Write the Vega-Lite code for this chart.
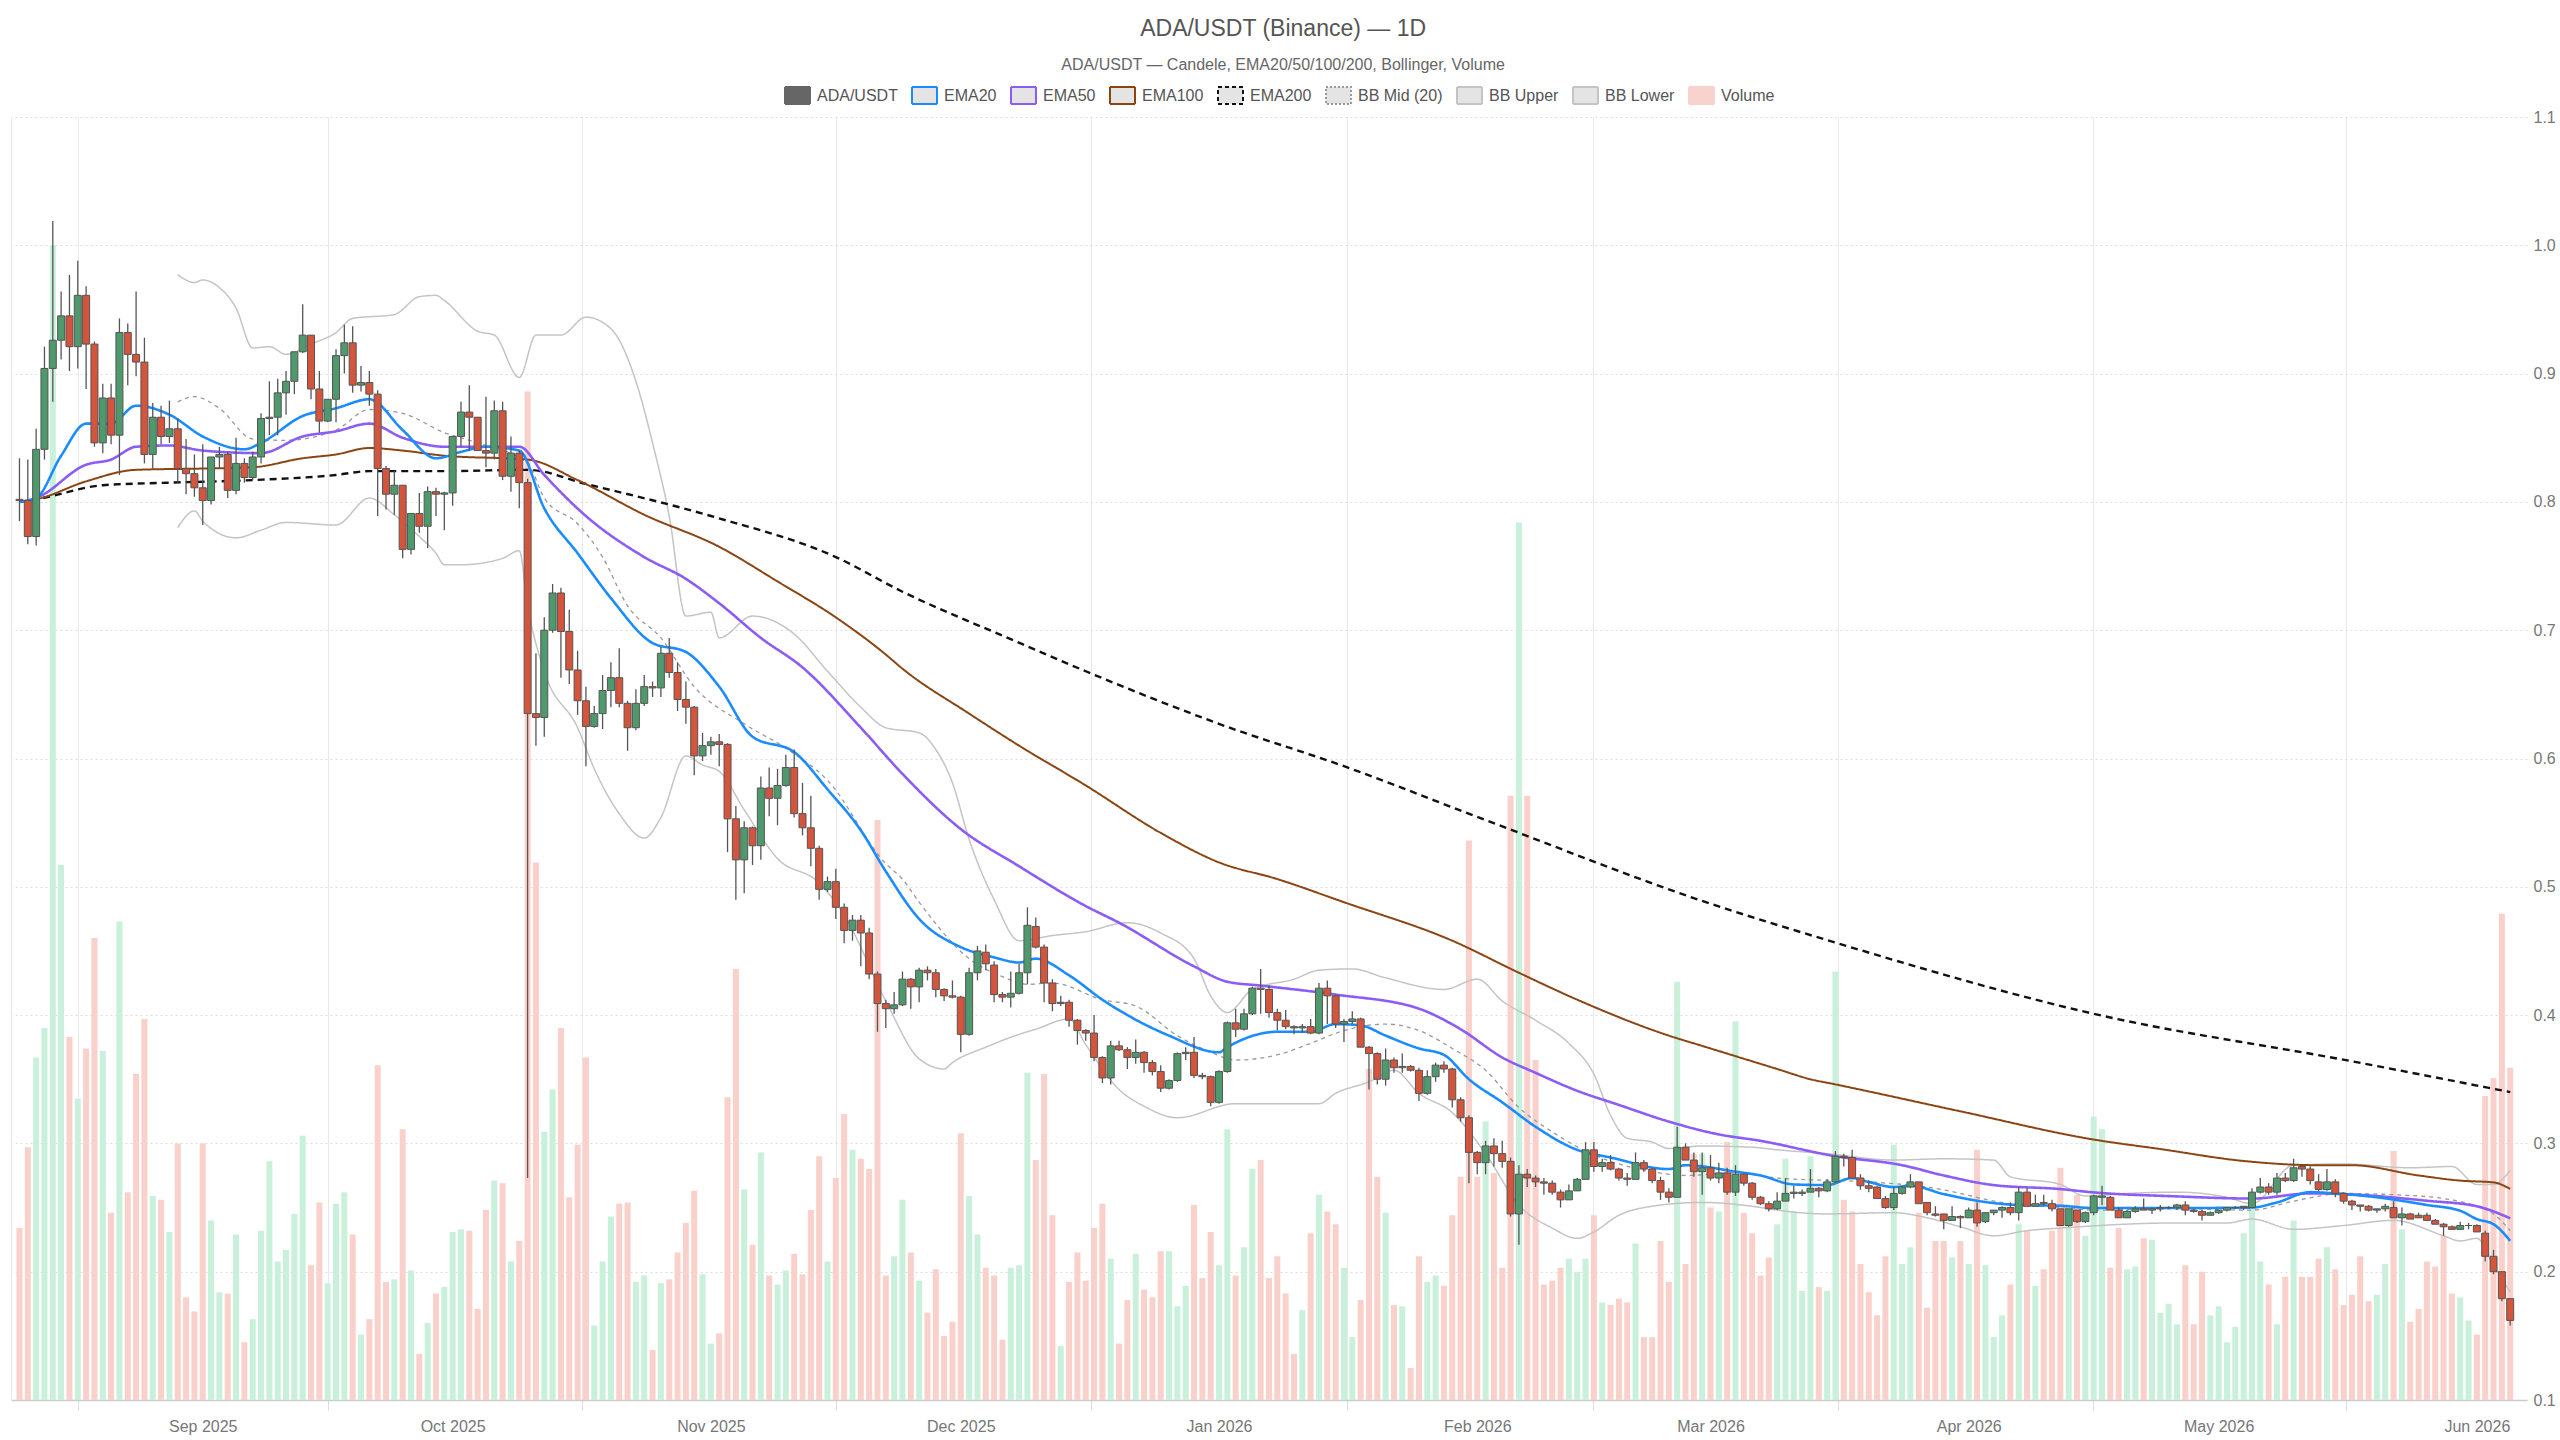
{
  "$schema": "https://vega.github.io/schema/vega-lite/v6.json",
  "autosize": {"type": "none"},
  "width": 2516,
  "height": 1283,
  "padding": {"left": 11, "top": 117, "right": 33, "bottom": 40},
  "background": "#ffffff",
  "config": {"font": "Liberation Sans", "view": {"stroke": null}},
  "title": {
    "text": "ADA/USDT (Binance) — 1D",
    "subtitle": "ADA/USDT — Candele, EMA20/50/100/200, Bollinger, Volume",
    "anchor": "middle",
    "frame": "bounds",
    "fontSize": 23,
    "fontWeight": "normal",
    "color": "#555555",
    "subtitleFontSize": 16,
    "subtitleColor": "#666666",
    "subtitlePadding": 16,
    "offset": 9
  },
  "datasets": {
    "ohlc": [
      {"d":"2025-08-10","o":0.802,"h":0.834,"l":0.785,"c":0.801,"v":134},
      {"d":"2025-08-11","o":0.801,"h":0.833,"l":0.767,"c":0.773,"v":197},
      {"d":"2025-08-12","o":0.773,"h":0.857,"l":0.766,"c":0.841,"v":267},
      {"d":"2025-08-13","o":0.841,"h":0.921,"l":0.833,"c":0.904,"v":290},
      {"d":"2025-08-14","o":0.904,"h":1.019,"l":0.878,"c":0.926,"v":900},
      {"d":"2025-08-15","o":0.926,"h":0.964,"l":0.911,"c":0.945,"v":417},
      {"d":"2025-08-16","o":0.945,"h":0.977,"l":0.902,"c":0.921,"v":283},
      {"d":"2025-08-17","o":0.921,"h":0.988,"l":0.904,"c":0.961,"v":235},
      {"d":"2025-08-18","o":0.961,"h":0.968,"l":0.888,"c":0.923,"v":274},
      {"d":"2025-08-19","o":0.923,"h":0.925,"l":0.843,"c":0.846,"v":360},
      {"d":"2025-08-20","o":0.846,"h":0.892,"l":0.838,"c":0.881,"v":272},
      {"d":"2025-08-21","o":0.881,"h":0.892,"l":0.845,"c":0.852,"v":146},
      {"d":"2025-08-22","o":0.852,"h":0.943,"l":0.821,"c":0.932,"v":373},
      {"d":"2025-08-23","o":0.932,"h":0.939,"l":0.891,"c":0.915,"v":162},
      {"d":"2025-08-24","o":0.915,"h":0.964,"l":0.898,"c":0.909,"v":254},
      {"d":"2025-08-25","o":0.909,"h":0.928,"l":0.830,"c":0.837,"v":297},
      {"d":"2025-08-26","o":0.837,"h":0.877,"l":0.826,"c":0.866,"v":159},
      {"d":"2025-08-27","o":0.866,"h":0.875,"l":0.845,"c":0.851,"v":156},
      {"d":"2025-08-28","o":0.851,"h":0.879,"l":0.846,"c":0.857,"v":131},
      {"d":"2025-08-29","o":0.857,"h":0.865,"l":0.815,"c":0.826,"v":200},
      {"d":"2025-08-30","o":0.826,"h":0.849,"l":0.806,"c":0.822,"v":80},
      {"d":"2025-08-31","o":0.822,"h":0.837,"l":0.804,"c":0.811,"v":69},
      {"d":"2025-09-01","o":0.811,"h":0.845,"l":0.782,"c":0.801,"v":200},
      {"d":"2025-09-02","o":0.801,"h":0.835,"l":0.798,"c":0.835,"v":140},
      {"d":"2025-09-03","o":0.835,"h":0.843,"l":0.826,"c":0.837,"v":84},
      {"d":"2025-09-04","o":0.837,"h":0.839,"l":0.803,"c":0.809,"v":83},
      {"d":"2025-09-05","o":0.809,"h":0.850,"l":0.806,"c":0.830,"v":129},
      {"d":"2025-09-06","o":0.830,"h":0.834,"l":0.815,"c":0.819,"v":45},
      {"d":"2025-09-07","o":0.819,"h":0.839,"l":0.817,"c":0.835,"v":63},
      {"d":"2025-09-08","o":0.835,"h":0.869,"l":0.830,"c":0.865,"v":132},
      {"d":"2025-09-09","o":0.865,"h":0.894,"l":0.852,"c":0.866,"v":186},
      {"d":"2025-09-10","o":0.866,"h":0.896,"l":0.852,"c":0.885,"v":108},
      {"d":"2025-09-11","o":0.885,"h":0.902,"l":0.868,"c":0.894,"v":117},
      {"d":"2025-09-12","o":0.894,"h":0.917,"l":0.884,"c":0.917,"v":145},
      {"d":"2025-09-13","o":0.917,"h":0.954,"l":0.916,"c":0.930,"v":206},
      {"d":"2025-09-14","o":0.930,"h":0.930,"l":0.880,"c":0.888,"v":105},
      {"d":"2025-09-15","o":0.888,"h":0.902,"l":0.854,"c":0.863,"v":154},
      {"d":"2025-09-16","o":0.863,"h":0.880,"l":0.862,"c":0.880,"v":91},
      {"d":"2025-09-17","o":0.880,"h":0.919,"l":0.862,"c":0.914,"v":153},
      {"d":"2025-09-18","o":0.914,"h":0.938,"l":0.900,"c":0.924,"v":162},
      {"d":"2025-09-19","o":0.924,"h":0.937,"l":0.885,"c":0.891,"v":129},
      {"d":"2025-09-20","o":0.891,"h":0.906,"l":0.886,"c":0.893,"v":51},
      {"d":"2025-09-21","o":0.893,"h":0.902,"l":0.875,"c":0.884,"v":63},
      {"d":"2025-09-22","o":0.884,"h":0.887,"l":0.789,"c":0.826,"v":261},
      {"d":"2025-09-23","o":0.826,"h":0.828,"l":0.794,"c":0.806,"v":92},
      {"d":"2025-09-24","o":0.806,"h":0.824,"l":0.790,"c":0.813,"v":94},
      {"d":"2025-09-25","o":0.813,"h":0.813,"l":0.756,"c":0.763,"v":211},
      {"d":"2025-09-26","o":0.763,"h":0.791,"l":0.759,"c":0.791,"v":101},
      {"d":"2025-09-27","o":0.791,"h":0.807,"l":0.776,"c":0.781,"v":36},
      {"d":"2025-09-28","o":0.781,"h":0.812,"l":0.764,"c":0.808,"v":60},
      {"d":"2025-09-29","o":0.808,"h":0.811,"l":0.789,"c":0.806,"v":83},
      {"d":"2025-09-30","o":0.806,"h":0.808,"l":0.778,"c":0.807,"v":88},
      {"d":"2025-10-01","o":0.807,"h":0.851,"l":0.797,"c":0.851,"v":131},
      {"d":"2025-10-02","o":0.851,"h":0.878,"l":0.843,"c":0.870,"v":133},
      {"d":"2025-10-03","o":0.870,"h":0.891,"l":0.840,"c":0.866,"v":132},
      {"d":"2025-10-04","o":0.866,"h":0.866,"l":0.840,"c":0.840,"v":71},
      {"d":"2025-10-05","o":0.840,"h":0.882,"l":0.827,"c":0.838,"v":148},
      {"d":"2025-10-06","o":0.838,"h":0.879,"l":0.833,"c":0.871,"v":171},
      {"d":"2025-10-07","o":0.871,"h":0.878,"l":0.817,"c":0.820,"v":169},
      {"d":"2025-10-08","o":0.820,"h":0.851,"l":0.808,"c":0.838,"v":108},
      {"d":"2025-10-09","o":0.838,"h":0.840,"l":0.795,"c":0.815,"v":124},
      {"d":"2025-10-10","o":0.815,"h":0.818,"l":0.273,"c":0.635,"v":786},
      {"d":"2025-10-11","o":0.635,"h":0.682,"l":0.610,"c":0.632,"v":419},
      {"d":"2025-10-12","o":0.632,"h":0.710,"l":0.617,"c":0.700,"v":209},
      {"d":"2025-10-13","o":0.700,"h":0.736,"l":0.698,"c":0.729,"v":242},
      {"d":"2025-10-14","o":0.729,"h":0.733,"l":0.663,"c":0.699,"v":290},
      {"d":"2025-10-15","o":0.699,"h":0.716,"l":0.658,"c":0.669,"v":158},
      {"d":"2025-10-16","o":0.669,"h":0.684,"l":0.634,"c":0.645,"v":199},
      {"d":"2025-10-17","o":0.645,"h":0.656,"l":0.594,"c":0.625,"v":267},
      {"d":"2025-10-18","o":0.625,"h":0.641,"l":0.624,"c":0.635,"v":58},
      {"d":"2025-10-19","o":0.635,"h":0.665,"l":0.623,"c":0.653,"v":108},
      {"d":"2025-10-20","o":0.653,"h":0.675,"l":0.640,"c":0.663,"v":143},
      {"d":"2025-10-21","o":0.663,"h":0.686,"l":0.640,"c":0.643,"v":153},
      {"d":"2025-10-22","o":0.643,"h":0.645,"l":0.606,"c":0.624,"v":154},
      {"d":"2025-10-23","o":0.624,"h":0.654,"l":0.622,"c":0.643,"v":92},
      {"d":"2025-10-24","o":0.643,"h":0.665,"l":0.641,"c":0.656,"v":97},
      {"d":"2025-10-25","o":0.656,"h":0.660,"l":0.648,"c":0.655,"v":39},
      {"d":"2025-10-26","o":0.655,"h":0.687,"l":0.648,"c":0.682,"v":91},
      {"d":"2025-10-27","o":0.682,"h":0.694,"l":0.663,"c":0.667,"v":94},
      {"d":"2025-10-28","o":0.667,"h":0.675,"l":0.637,"c":0.646,"v":115},
      {"d":"2025-10-29","o":0.646,"h":0.660,"l":0.627,"c":0.640,"v":138},
      {"d":"2025-10-30","o":0.640,"h":0.641,"l":0.587,"c":0.602,"v":163},
      {"d":"2025-10-31","o":0.602,"h":0.620,"l":0.598,"c":0.610,"v":98},
      {"d":"2025-11-01","o":0.610,"h":0.617,"l":0.603,"c":0.613,"v":44},
      {"d":"2025-11-02","o":0.613,"h":0.619,"l":0.594,"c":0.611,"v":52},
      {"d":"2025-11-03","o":0.611,"h":0.612,"l":0.527,"c":0.553,"v":236},
      {"d":"2025-11-04","o":0.553,"h":0.563,"l":0.490,"c":0.521,"v":336},
      {"d":"2025-11-05","o":0.521,"h":0.551,"l":0.495,"c":0.546,"v":164},
      {"d":"2025-11-06","o":0.546,"h":0.547,"l":0.517,"c":0.532,"v":121},
      {"d":"2025-11-07","o":0.532,"h":0.586,"l":0.521,"c":0.577,"v":193},
      {"d":"2025-11-08","o":0.577,"h":0.593,"l":0.555,"c":0.569,"v":97},
      {"d":"2025-11-09","o":0.569,"h":0.592,"l":0.548,"c":0.579,"v":90},
      {"d":"2025-11-10","o":0.579,"h":0.603,"l":0.578,"c":0.593,"v":101},
      {"d":"2025-11-11","o":0.593,"h":0.607,"l":0.554,"c":0.557,"v":114},
      {"d":"2025-11-12","o":0.557,"h":0.581,"l":0.540,"c":0.546,"v":98},
      {"d":"2025-11-13","o":0.546,"h":0.571,"l":0.516,"c":0.530,"v":148},
      {"d":"2025-11-14","o":0.530,"h":0.532,"l":0.490,"c":0.498,"v":190},
      {"d":"2025-11-15","o":0.498,"h":0.508,"l":0.496,"c":0.504,"v":108},
      {"d":"2025-11-16","o":0.504,"h":0.514,"l":0.475,"c":0.484,"v":173},
      {"d":"2025-11-17","o":0.484,"h":0.487,"l":0.456,"c":0.466,"v":223},
      {"d":"2025-11-18","o":0.466,"h":0.478,"l":0.458,"c":0.474,"v":195},
      {"d":"2025-11-19","o":0.474,"h":0.478,"l":0.438,"c":0.464,"v":188},
      {"d":"2025-11-20","o":0.464,"h":0.468,"l":0.428,"c":0.432,"v":180},
      {"d":"2025-11-21","o":0.432,"h":0.434,"l":0.387,"c":0.409,"v":452},
      {"d":"2025-11-22","o":0.409,"h":0.412,"l":0.390,"c":0.405,"v":97},
      {"d":"2025-11-23","o":0.405,"h":0.418,"l":0.401,"c":0.408,"v":112},
      {"d":"2025-11-24","o":0.408,"h":0.434,"l":0.407,"c":0.428,"v":156},
      {"d":"2025-11-25","o":0.428,"h":0.429,"l":0.405,"c":0.422,"v":115},
      {"d":"2025-11-26","o":0.422,"h":0.437,"l":0.410,"c":0.435,"v":93},
      {"d":"2025-11-27","o":0.435,"h":0.438,"l":0.427,"c":0.433,"v":68},
      {"d":"2025-11-28","o":0.433,"h":0.436,"l":0.414,"c":0.420,"v":102},
      {"d":"2025-11-29","o":0.420,"h":0.421,"l":0.411,"c":0.415,"v":50},
      {"d":"2025-11-30","o":0.415,"h":0.427,"l":0.413,"c":0.414,"v":61},
      {"d":"2025-12-01","o":0.414,"h":0.415,"l":0.371,"c":0.385,"v":208},
      {"d":"2025-12-02","o":0.385,"h":0.437,"l":0.384,"c":0.433,"v":159},
      {"d":"2025-12-03","o":0.433,"h":0.454,"l":0.427,"c":0.450,"v":129},
      {"d":"2025-12-04","o":0.449,"h":0.455,"l":0.435,"c":0.440,"v":103},
      {"d":"2025-12-05","o":0.439,"h":0.442,"l":0.410,"c":0.416,"v":97},
      {"d":"2025-12-06","o":0.416,"h":0.418,"l":0.410,"c":0.414,"v":47},
      {"d":"2025-12-07","o":0.414,"h":0.434,"l":0.406,"c":0.417,"v":103},
      {"d":"2025-12-08","o":0.417,"h":0.440,"l":0.416,"c":0.433,"v":105},
      {"d":"2025-12-09","o":0.433,"h":0.484,"l":0.424,"c":0.470,"v":255},
      {"d":"2025-12-10","o":0.469,"h":0.476,"l":0.452,"c":0.453,"v":187},
      {"d":"2025-12-11","o":0.453,"h":0.455,"l":0.410,"c":0.425,"v":254},
      {"d":"2025-12-12","o":0.425,"h":0.428,"l":0.403,"c":0.409,"v":144},
      {"d":"2025-12-13","o":0.409,"h":0.415,"l":0.407,"c":0.410,"v":42},
      {"d":"2025-12-14","o":0.410,"h":0.412,"l":0.391,"c":0.396,"v":92},
      {"d":"2025-12-15","o":0.396,"h":0.397,"l":0.377,"c":0.388,"v":115},
      {"d":"2025-12-16","o":0.388,"h":0.389,"l":0.380,"c":0.386,"v":93},
      {"d":"2025-12-17","o":0.386,"h":0.400,"l":0.364,"c":0.367,"v":134},
      {"d":"2025-12-18","o":0.367,"h":0.368,"l":0.347,"c":0.351,"v":153},
      {"d":"2025-12-19","o":0.351,"h":0.380,"l":0.346,"c":0.376,"v":110},
      {"d":"2025-12-20","o":0.376,"h":0.380,"l":0.372,"c":0.373,"v":44},
      {"d":"2025-12-21","o":0.373,"h":0.375,"l":0.358,"c":0.367,"v":78},
      {"d":"2025-12-22","o":0.367,"h":0.381,"l":0.362,"c":0.371,"v":114},
      {"d":"2025-12-23","o":0.371,"h":0.372,"l":0.355,"c":0.363,"v":86},
      {"d":"2025-12-24","o":0.363,"h":0.365,"l":0.353,"c":0.356,"v":80},
      {"d":"2025-12-25","o":0.356,"h":0.361,"l":0.340,"c":0.343,"v":116},
      {"d":"2025-12-26","o":0.343,"h":0.350,"l":0.342,"c":0.349,"v":116},
      {"d":"2025-12-27","o":0.349,"h":0.371,"l":0.348,"c":0.370,"v":73},
      {"d":"2025-12-28","o":0.370,"h":0.375,"l":0.365,"c":0.371,"v":89},
      {"d":"2025-12-29","o":0.371,"h":0.383,"l":0.351,"c":0.353,"v":152},
      {"d":"2025-12-30","o":0.353,"h":0.355,"l":0.350,"c":0.352,"v":95},
      {"d":"2025-12-31","o":0.352,"h":0.353,"l":0.329,"c":0.332,"v":131},
      {"d":"2026-01-01","o":0.332,"h":0.357,"l":0.331,"c":0.356,"v":105},
      {"d":"2026-01-02","o":0.356,"h":0.395,"l":0.355,"c":0.394,"v":211},
      {"d":"2026-01-03","o":0.394,"h":0.405,"l":0.383,"c":0.389,"v":97},
      {"d":"2026-01-04","o":0.389,"h":0.405,"l":0.388,"c":0.401,"v":119},
      {"d":"2026-01-05","o":0.401,"h":0.422,"l":0.400,"c":0.421,"v":180},
      {"d":"2026-01-06","o":0.421,"h":0.436,"l":0.401,"c":0.420,"v":187},
      {"d":"2026-01-07","o":0.420,"h":0.423,"l":0.398,"c":0.402,"v":95},
      {"d":"2026-01-08","o":0.402,"h":0.405,"l":0.388,"c":0.396,"v":112},
      {"d":"2026-01-09","o":0.396,"h":0.404,"l":0.389,"c":0.391,"v":83},
      {"d":"2026-01-10","o":0.391,"h":0.392,"l":0.385,"c":0.390,"v":36},
      {"d":"2026-01-11","o":0.390,"h":0.393,"l":0.386,"c":0.391,"v":70},
      {"d":"2026-01-12","o":0.391,"h":0.397,"l":0.385,"c":0.386,"v":130},
      {"d":"2026-01-13","o":0.386,"h":0.425,"l":0.385,"c":0.421,"v":160},
      {"d":"2026-01-14","o":0.421,"h":0.427,"l":0.393,"c":0.415,"v":147},
      {"d":"2026-01-15","o":0.415,"h":0.416,"l":0.390,"c":0.393,"v":137},
      {"d":"2026-01-16","o":0.393,"h":0.397,"l":0.379,"c":0.395,"v":103},
      {"d":"2026-01-17","o":0.395,"h":0.403,"l":0.393,"c":0.397,"v":49},
      {"d":"2026-01-18","o":0.397,"h":0.398,"l":0.375,"c":0.375,"v":78},
      {"d":"2026-01-19","o":0.375,"h":0.376,"l":0.342,"c":0.370,"v":258},
      {"d":"2026-01-20","o":0.370,"h":0.371,"l":0.346,"c":0.350,"v":174},
      {"d":"2026-01-21","o":0.350,"h":0.374,"l":0.345,"c":0.365,"v":146},
      {"d":"2026-01-22","o":0.365,"h":0.367,"l":0.355,"c":0.359,"v":74},
      {"d":"2026-01-23","o":0.359,"h":0.370,"l":0.355,"c":0.360,"v":73},
      {"d":"2026-01-24","o":0.360,"h":0.361,"l":0.356,"c":0.357,"v":25},
      {"d":"2026-01-25","o":0.357,"h":0.359,"l":0.333,"c":0.339,"v":112},
      {"d":"2026-01-26","o":0.339,"h":0.357,"l":0.338,"c":0.352,"v":92},
      {"d":"2026-01-27","o":0.352,"h":0.363,"l":0.348,"c":0.361,"v":97},
      {"d":"2026-01-28","o":0.361,"h":0.364,"l":0.355,"c":0.358,"v":89},
      {"d":"2026-01-29","o":0.358,"h":0.359,"l":0.328,"c":0.334,"v":144},
      {"d":"2026-01-30","o":0.334,"h":0.336,"l":0.317,"c":0.320,"v":174},
      {"d":"2026-01-31","o":0.320,"h":0.322,"l":0.269,"c":0.293,"v":436},
      {"d":"2026-02-01","o":0.293,"h":0.294,"l":0.276,"c":0.285,"v":174},
      {"d":"2026-02-02","o":0.285,"h":0.302,"l":0.276,"c":0.298,"v":217},
      {"d":"2026-02-03","o":0.298,"h":0.304,"l":0.282,"c":0.292,"v":177},
      {"d":"2026-02-04","o":0.292,"h":0.302,"l":0.281,"c":0.286,"v":103},
      {"d":"2026-02-05","o":0.286,"h":0.289,"l":0.243,"c":0.245,"v":471},
      {"d":"2026-02-06","o":0.245,"h":0.283,"l":0.221,"c":0.276,"v":684},
      {"d":"2026-02-07","o":0.276,"h":0.280,"l":0.266,"c":0.273,"v":471},
      {"d":"2026-02-08","o":0.273,"h":0.275,"l":0.266,"c":0.270,"v":265},
      {"d":"2026-02-09","o":0.270,"h":0.273,"l":0.260,"c":0.269,"v":90},
      {"d":"2026-02-10","o":0.269,"h":0.271,"l":0.260,"c":0.262,"v":93},
      {"d":"2026-02-11","o":0.262,"h":0.264,"l":0.250,"c":0.256,"v":103},
      {"d":"2026-02-12","o":0.256,"h":0.268,"l":0.256,"c":0.263,"v":110},
      {"d":"2026-02-13","o":0.263,"h":0.273,"l":0.263,"c":0.272,"v":100},
      {"d":"2026-02-14","o":0.272,"h":0.301,"l":0.272,"c":0.295,"v":110},
      {"d":"2026-02-15","o":0.295,"h":0.301,"l":0.278,"c":0.282,"v":144},
      {"d":"2026-02-16","o":0.282,"h":0.288,"l":0.278,"c":0.285,"v":76},
      {"d":"2026-02-17","o":0.285,"h":0.291,"l":0.279,"c":0.280,"v":74},
      {"d":"2026-02-18","o":0.280,"h":0.281,"l":0.271,"c":0.273,"v":79},
      {"d":"2026-02-19","o":0.273,"h":0.277,"l":0.267,"c":0.272,"v":76},
      {"d":"2026-02-20","o":0.272,"h":0.293,"l":0.272,"c":0.285,"v":122},
      {"d":"2026-02-21","o":0.285,"h":0.287,"l":0.278,"c":0.280,"v":49},
      {"d":"2026-02-22","o":0.280,"h":0.281,"l":0.269,"c":0.271,"v":49},
      {"d":"2026-02-23","o":0.271,"h":0.274,"l":0.256,"c":0.262,"v":124},
      {"d":"2026-02-24","o":0.262,"h":0.265,"l":0.254,"c":0.258,"v":92},
      {"d":"2026-02-25","o":0.258,"h":0.313,"l":0.258,"c":0.297,"v":326},
      {"d":"2026-02-26","o":0.297,"h":0.300,"l":0.287,"c":0.287,"v":106},
      {"d":"2026-02-27","o":0.287,"h":0.293,"l":0.274,"c":0.278,"v":192},
      {"d":"2026-02-28","o":0.278,"h":0.293,"l":0.260,"c":0.281,"v":192},
      {"d":"2026-03-01","o":0.281,"h":0.291,"l":0.271,"c":0.273,"v":150},
      {"d":"2026-03-02","o":0.273,"h":0.285,"l":0.269,"c":0.277,"v":147},
      {"d":"2026-03-03","o":0.277,"h":0.281,"l":0.260,"c":0.262,"v":201},
      {"d":"2026-03-04","o":0.262,"h":0.283,"l":0.259,"c":0.276,"v":295},
      {"d":"2026-03-05","o":0.276,"h":0.276,"l":0.267,"c":0.269,"v":146},
      {"d":"2026-03-06","o":0.269,"h":0.270,"l":0.256,"c":0.258,"v":130},
      {"d":"2026-03-07","o":0.258,"h":0.259,"l":0.252,"c":0.253,"v":97},
      {"d":"2026-03-08","o":0.253,"h":0.255,"l":0.247,"c":0.249,"v":111},
      {"d":"2026-03-09","o":0.249,"h":0.262,"l":0.248,"c":0.255,"v":137},
      {"d":"2026-03-10","o":0.255,"h":0.273,"l":0.255,"c":0.261,"v":188},
      {"d":"2026-03-11","o":0.261,"h":0.267,"l":0.257,"c":0.262,"v":147},
      {"d":"2026-03-12","o":0.261,"h":0.264,"l":0.259,"c":0.262,"v":85},
      {"d":"2026-03-13","o":0.262,"h":0.280,"l":0.262,"c":0.265,"v":190},
      {"d":"2026-03-14","o":0.265,"h":0.266,"l":0.258,"c":0.263,"v":88},
      {"d":"2026-03-15","o":0.263,"h":0.272,"l":0.262,"c":0.270,"v":85},
      {"d":"2026-03-16","o":0.270,"h":0.294,"l":0.269,"c":0.290,"v":334},
      {"d":"2026-03-17","o":0.290,"h":0.292,"l":0.282,"c":0.289,"v":156},
      {"d":"2026-03-18","o":0.289,"h":0.295,"l":0.272,"c":0.273,"v":147},
      {"d":"2026-03-19","o":0.273,"h":0.276,"l":0.264,"c":0.267,"v":106},
      {"d":"2026-03-20","o":0.267,"h":0.271,"l":0.262,"c":0.265,"v":84},
      {"d":"2026-03-21","o":0.266,"h":0.267,"l":0.257,"c":0.257,"v":66},
      {"d":"2026-03-22","o":0.257,"h":0.259,"l":0.249,"c":0.250,"v":112},
      {"d":"2026-03-23","o":0.250,"h":0.266,"l":0.248,"c":0.261,"v":199},
      {"d":"2026-03-24","o":0.261,"h":0.266,"l":0.260,"c":0.266,"v":106},
      {"d":"2026-03-25","o":0.266,"h":0.276,"l":0.265,"c":0.270,"v":119},
      {"d":"2026-03-26","o":0.270,"h":0.270,"l":0.253,"c":0.253,"v":146},
      {"d":"2026-03-27","o":0.254,"h":0.254,"l":0.244,"c":0.246,"v":72},
      {"d":"2026-03-28","o":0.245,"h":0.251,"l":0.243,"c":0.244,"v":124},
      {"d":"2026-03-29","o":0.245,"h":0.245,"l":0.233,"c":0.240,"v":124},
      {"d":"2026-03-30","o":0.240,"h":0.251,"l":0.240,"c":0.243,"v":111},
      {"d":"2026-03-31","o":0.243,"h":0.244,"l":0.234,"c":0.242,"v":124},
      {"d":"2026-04-01","o":0.242,"h":0.250,"l":0.242,"c":0.248,"v":106},
      {"d":"2026-04-02","o":0.248,"h":0.254,"l":0.235,"c":0.238,"v":195},
      {"d":"2026-04-03","o":0.239,"h":0.246,"l":0.238,"c":0.246,"v":105},
      {"d":"2026-04-04","o":0.246,"h":0.248,"l":0.244,"c":0.248,"v":49},
      {"d":"2026-04-05","o":0.248,"h":0.251,"l":0.242,"c":0.250,"v":66},
      {"d":"2026-04-06","o":0.250,"h":0.254,"l":0.244,"c":0.246,"v":90},
      {"d":"2026-04-07","o":0.246,"h":0.266,"l":0.240,"c":0.262,"v":137},
      {"d":"2026-04-08","o":0.262,"h":0.265,"l":0.251,"c":0.251,"v":132},
      {"d":"2026-04-09","o":0.251,"h":0.260,"l":0.251,"c":0.253,"v":89},
      {"d":"2026-04-10","o":0.254,"h":0.260,"l":0.251,"c":0.253,"v":102},
      {"d":"2026-04-11","o":0.253,"h":0.256,"l":0.247,"c":0.249,"v":132},
      {"d":"2026-04-12","o":0.249,"h":0.249,"l":0.236,"c":0.236,"v":181},
      {"d":"2026-04-13","o":0.236,"h":0.249,"l":0.235,"c":0.249,"v":147},
      {"d":"2026-04-14","o":0.248,"h":0.248,"l":0.238,"c":0.239,"v":160},
      {"d":"2026-04-15","o":0.239,"h":0.247,"l":0.238,"c":0.246,"v":128},
      {"d":"2026-04-16","o":0.246,"h":0.260,"l":0.244,"c":0.259,"v":221},
      {"d":"2026-04-17","o":0.258,"h":0.267,"l":0.252,"c":0.259,"v":211},
      {"d":"2026-04-18","o":0.258,"h":0.259,"l":0.248,"c":0.248,"v":103},
      {"d":"2026-04-19","o":0.248,"h":0.250,"l":0.242,"c":0.242,"v":134},
      {"d":"2026-04-20","o":0.242,"h":0.248,"l":0.242,"c":0.247,"v":102},
      {"d":"2026-04-21","o":0.247,"h":0.251,"l":0.246,"c":0.249,"v":104},
      {"d":"2026-04-22","o":0.249,"h":0.257,"l":0.248,"c":0.248,"v":126},
      {"d":"2026-04-23","o":0.248,"h":0.250,"l":0.245,"c":0.249,"v":125},
      {"d":"2026-04-24","o":0.249,"h":0.252,"l":0.247,"c":0.250,"v":68},
      {"d":"2026-04-25","o":0.250,"h":0.251,"l":0.249,"c":0.250,"v":75},
      {"d":"2026-04-26","o":0.250,"h":0.253,"l":0.248,"c":0.252,"v":59},
      {"d":"2026-04-27","o":0.252,"h":0.255,"l":0.244,"c":0.248,"v":105},
      {"d":"2026-04-28","o":0.248,"h":0.249,"l":0.246,"c":0.247,"v":59},
      {"d":"2026-04-29","o":0.247,"h":0.248,"l":0.240,"c":0.244,"v":100},
      {"d":"2026-04-30","o":0.244,"h":0.247,"l":0.244,"c":0.246,"v":66},
      {"d":"2026-05-01","o":0.246,"h":0.248,"l":0.245,"c":0.248,"v":73},
      {"d":"2026-05-02","o":0.248,"h":0.250,"l":0.247,"c":0.250,"v":45},
      {"d":"2026-05-03","o":0.250,"h":0.251,"l":0.249,"c":0.250,"v":57},
      {"d":"2026-05-04","o":0.250,"h":0.251,"l":0.248,"c":0.251,"v":130},
      {"d":"2026-05-05","o":0.250,"h":0.265,"l":0.250,"c":0.262,"v":150},
      {"d":"2026-05-06","o":0.262,"h":0.273,"l":0.261,"c":0.266,"v":108},
      {"d":"2026-05-07","o":0.266,"h":0.269,"l":0.260,"c":0.262,"v":90},
      {"d":"2026-05-08","o":0.262,"h":0.277,"l":0.260,"c":0.273,"v":59},
      {"d":"2026-05-09","o":0.273,"h":0.277,"l":0.270,"c":0.271,"v":96},
      {"d":"2026-05-10","o":0.271,"h":0.288,"l":0.270,"c":0.281,"v":140},
      {"d":"2026-05-11","o":0.282,"h":0.284,"l":0.274,"c":0.280,"v":96},
      {"d":"2026-05-12","o":0.280,"h":0.282,"l":0.268,"c":0.271,"v":96},
      {"d":"2026-05-13","o":0.270,"h":0.276,"l":0.263,"c":0.264,"v":110},
      {"d":"2026-05-14","o":0.264,"h":0.280,"l":0.263,"c":0.270,"v":119},
      {"d":"2026-05-15","o":0.270,"h":0.272,"l":0.258,"c":0.261,"v":102},
      {"d":"2026-05-16","o":0.261,"h":0.262,"l":0.253,"c":0.255,"v":74},
      {"d":"2026-05-17","o":0.255,"h":0.256,"l":0.248,"c":0.252,"v":82},
      {"d":"2026-05-18","o":0.252,"h":0.252,"l":0.247,"c":0.251,"v":112},
      {"d":"2026-05-19","o":0.251,"h":0.252,"l":0.247,"c":0.248,"v":77},
      {"d":"2026-05-20","o":0.248,"h":0.249,"l":0.246,"c":0.249,"v":82},
      {"d":"2026-05-21","o":0.249,"h":0.253,"l":0.247,"c":0.251,"v":106},
      {"d":"2026-05-22","o":0.250,"h":0.255,"l":0.242,"c":0.242,"v":194},
      {"d":"2026-05-23","o":0.242,"h":0.250,"l":0.236,"c":0.245,"v":133},
      {"d":"2026-05-24","o":0.245,"h":0.246,"l":0.241,"c":0.241,"v":61},
      {"d":"2026-05-25","o":0.244,"h":0.246,"l":0.242,"c":0.242,"v":71},
      {"d":"2026-05-26","o":0.244,"h":0.246,"l":0.240,"c":0.240,"v":108},
      {"d":"2026-05-27","o":0.240,"h":0.241,"l":0.237,"c":0.237,"v":104},
      {"d":"2026-05-28","o":0.237,"h":0.238,"l":0.228,"c":0.235,"v":128},
      {"d":"2026-05-29","o":0.235,"h":0.236,"l":0.233,"c":0.233,"v":83},
      {"d":"2026-05-30","o":0.233,"h":0.239,"l":0.233,"c":0.236,"v":80},
      {"d":"2026-05-31","o":0.236,"h":0.238,"l":0.233,"c":0.236,"v":62},
      {"d":"2026-06-01","o":0.236,"h":0.237,"l":0.231,"c":0.231,"v":51},
      {"d":"2026-06-02","o":0.230,"h":0.232,"l":0.208,"c":0.212,"v":237},
      {"d":"2026-06-03","o":0.212,"h":0.217,"l":0.198,"c":0.200,"v":251},
      {"d":"2026-06-04","o":0.200,"h":0.200,"l":0.177,"c":0.179,"v":379},
      {"d":"2026-06-05","o":0.179,"h":0.179,"l":0.158,"c":0.162,"v":259}
    ],
    "ind": [
      {"d":"2025-08-29","s":"BB Upper","p":0.977},{"d":"2025-08-31","s":"BB Upper","p":0.971},{"d":"2025-09-01","s":"BB Upper","p":0.973},{"d":"2025-09-03","s":"BB Upper","p":0.967},{"d":"2025-09-05","s":"BB Upper","p":0.951},{"d":"2025-09-07","s":"BB Upper","p":0.920},{"d":"2025-09-09","s":"BB Upper","p":0.921},{"d":"2025-09-11","s":"BB Upper","p":0.915},{"d":"2025-09-14","s":"BB Upper","p":0.923},{"d":"2025-09-17","s":"BB Upper","p":0.932},{"d":"2025-09-19","s":"BB Upper","p":0.943},{"d":"2025-09-24","s":"BB Upper","p":0.946},{"d":"2025-09-27","s":"BB Upper","p":0.960},{"d":"2025-09-29","s":"BB Upper","p":0.961},{"d":"2025-09-30","s":"BB Upper","p":0.957},{"d":"2025-10-04","s":"BB Upper","p":0.933},{"d":"2025-10-06","s":"BB Upper","p":0.930},{"d":"2025-10-09","s":"BB Upper","p":0.897},{"d":"2025-10-11","s":"BB Upper","p":0.930},{"d":"2025-10-14","s":"BB Upper","p":0.930},{"d":"2025-10-17","s":"BB Upper","p":0.944},{"d":"2025-10-20","s":"BB Upper","p":0.935},{"d":"2025-10-23","s":"BB Upper","p":0.894},{"d":"2025-10-25","s":"BB Upper","p":0.846},{"d":"2025-10-27","s":"BB Upper","p":0.789},{"d":"2025-10-29","s":"BB Upper","p":0.711},{"d":"2025-11-01","s":"BB Upper","p":0.714},{"d":"2025-11-02","s":"BB Upper","p":0.694},{"d":"2025-11-06","s":"BB Upper","p":0.711},{"d":"2025-11-11","s":"BB Upper","p":0.697},{"d":"2025-11-15","s":"BB Upper","p":0.668},{"d":"2025-11-19","s":"BB Upper","p":0.640},{"d":"2025-11-22","s":"BB Upper","p":0.624},{"d":"2025-11-26","s":"BB Upper","p":0.620},{"d":"2025-11-28","s":"BB Upper","p":0.607},{"d":"2025-11-30","s":"BB Upper","p":0.581},{"d":"2025-12-02","s":"BB Upper","p":0.537},{"d":"2025-12-05","s":"BB Upper","p":0.490},{"d":"2025-12-08","s":"BB Upper","p":0.458},{"d":"2025-12-12","s":"BB Upper","p":0.462},{"d":"2025-12-16","s":"BB Upper","p":0.465},{"d":"2025-12-21","s":"BB Upper","p":0.472},{"d":"2025-12-25","s":"BB Upper","p":0.464},{"d":"2025-12-29","s":"BB Upper","p":0.444},{"d":"2025-12-31","s":"BB Upper","p":0.415},{"d":"2026-01-02","s":"BB Upper","p":0.402},{"d":"2026-01-05","s":"BB Upper","p":0.420},{"d":"2026-01-10","s":"BB Upper","p":0.428},{"d":"2026-01-13","s":"BB Upper","p":0.435},{"d":"2026-01-17","s":"BB Upper","p":0.436},{"d":"2026-01-21","s":"BB Upper","p":0.429},{"d":"2026-01-28","s":"BB Upper","p":0.420},{"d":"2026-02-01","s":"BB Upper","p":0.428},{"d":"2026-02-04","s":"BB Upper","p":0.411},{"d":"2026-02-08","s":"BB Upper","p":0.396},{"d":"2026-02-12","s":"BB Upper","p":0.378},{"d":"2026-02-15","s":"BB Upper","p":0.354},{"d":"2026-02-17","s":"BB Upper","p":0.322},{"d":"2026-02-19","s":"BB Upper","p":0.304},{"d":"2026-02-22","s":"BB Upper","p":0.301},{"d":"2026-02-24","s":"BB Upper","p":0.296},{"d":"2026-02-28","s":"BB Upper","p":0.298},{"d":"2026-03-06","s":"BB Upper","p":0.297},{"d":"2026-03-09","s":"BB Upper","p":0.295},{"d":"2026-03-15","s":"BB Upper","p":0.292},{"d":"2026-03-23","s":"BB Upper","p":0.287},{"d":"2026-03-29","s":"BB Upper","p":0.288},{"d":"2026-04-04","s":"BB Upper","p":0.287},{"d":"2026-04-06","s":"BB Upper","p":0.274},{"d":"2026-04-12","s":"BB Upper","p":0.268},{"d":"2026-04-15","s":"BB Upper","p":0.259},{"d":"2026-04-20","s":"BB Upper","p":0.261},{"d":"2026-04-26","s":"BB Upper","p":0.262},{"d":"2026-05-02","s":"BB Upper","p":0.258},{"d":"2026-05-05","s":"BB Upper","p":0.253},{"d":"2026-05-10","s":"BB Upper","p":0.283},{"d":"2026-05-16","s":"BB Upper","p":0.284},{"d":"2026-05-24","s":"BB Upper","p":0.281},{"d":"2026-05-29","s":"BB Upper","p":0.282},{"d":"2026-06-01","s":"BB Upper","p":0.268},{"d":"2026-06-03","s":"BB Upper","p":0.268},{"d":"2026-06-05","s":"BB Upper","p":0.279},
      {"d":"2025-08-29","s":"BB Lower","p":0.780},{"d":"2025-08-31","s":"BB Lower","p":0.793},{"d":"2025-09-01","s":"BB Lower","p":0.785},{"d":"2025-09-05","s":"BB Lower","p":0.772},{"d":"2025-09-08","s":"BB Lower","p":0.778},{"d":"2025-09-11","s":"BB Lower","p":0.784},{"d":"2025-09-17","s":"BB Lower","p":0.782},{"d":"2025-09-21","s":"BB Lower","p":0.803},{"d":"2025-09-24","s":"BB Lower","p":0.790},{"d":"2025-09-27","s":"BB Lower","p":0.773},{"d":"2025-09-29","s":"BB Lower","p":0.760},{"d":"2025-09-30","s":"BB Lower","p":0.751},{"d":"2025-10-02","s":"BB Lower","p":0.751},{"d":"2025-10-07","s":"BB Lower","p":0.756},{"d":"2025-10-09","s":"BB Lower","p":0.762},{"d":"2025-10-10","s":"BB Lower","p":0.719},{"d":"2025-10-12","s":"BB Lower","p":0.668},{"d":"2025-10-16","s":"BB Lower","p":0.624},{"d":"2025-10-18","s":"BB Lower","p":0.592},{"d":"2025-10-21","s":"BB Lower","p":0.557},{"d":"2025-10-24","s":"BB Lower","p":0.538},{"d":"2025-10-26","s":"BB Lower","p":0.554},{"d":"2025-10-29","s":"BB Lower","p":0.602},{"d":"2025-10-31","s":"BB Lower","p":0.595},{"d":"2025-11-02","s":"BB Lower","p":0.590},{"d":"2025-11-05","s":"BB Lower","p":0.560},{"d":"2025-11-09","s":"BB Lower","p":0.522},{"d":"2025-11-14","s":"BB Lower","p":0.503},{"d":"2025-11-17","s":"BB Lower","p":0.478},{"d":"2025-11-22","s":"BB Lower","p":0.411},{"d":"2025-11-26","s":"BB Lower","p":0.366},{"d":"2025-11-29","s":"BB Lower","p":0.358},{"d":"2025-11-30","s":"BB Lower","p":0.363},{"d":"2025-12-04","s":"BB Lower","p":0.375},{"d":"2025-12-08","s":"BB Lower","p":0.385},{"d":"2025-12-10","s":"BB Lower","p":0.389},{"d":"2025-12-14","s":"BB Lower","p":0.397},{"d":"2025-12-16","s":"BB Lower","p":0.377},{"d":"2025-12-20","s":"BB Lower","p":0.342},{"d":"2025-12-23","s":"BB Lower","p":0.329},{"d":"2025-12-27","s":"BB Lower","p":0.320},{"d":"2026-01-03","s":"BB Lower","p":0.331},{"d":"2026-01-13","s":"BB Lower","p":0.331},{"d":"2026-01-15","s":"BB Lower","p":0.339},{"d":"2026-01-19","s":"BB Lower","p":0.348},{"d":"2026-01-22","s":"BB Lower","p":0.357},{"d":"2026-01-25","s":"BB Lower","p":0.339},{"d":"2026-01-29","s":"BB Lower","p":0.324},{"d":"2026-02-02","s":"BB Lower","p":0.292},{"d":"2026-02-06","s":"BB Lower","p":0.252},{"d":"2026-02-10","s":"BB Lower","p":0.234},{"d":"2026-02-13","s":"BB Lower","p":0.226},{"d":"2026-02-15","s":"BB Lower","p":0.231},{"d":"2026-02-18","s":"BB Lower","p":0.244},{"d":"2026-02-22","s":"BB Lower","p":0.251},{"d":"2026-02-28","s":"BB Lower","p":0.254},{"d":"2026-03-06","s":"BB Lower","p":0.251},{"d":"2026-03-09","s":"BB Lower","p":0.248},{"d":"2026-03-15","s":"BB Lower","p":0.245},{"d":"2026-03-23","s":"BB Lower","p":0.246},{"d":"2026-03-27","s":"BB Lower","p":0.242},{"d":"2026-03-31","s":"BB Lower","p":0.235},{"d":"2026-04-04","s":"BB Lower","p":0.228},{"d":"2026-04-08","s":"BB Lower","p":0.232},{"d":"2026-04-12","s":"BB Lower","p":0.234},{"d":"2026-04-26","s":"BB Lower","p":0.238},{"d":"2026-05-02","s":"BB Lower","p":0.238},{"d":"2026-05-05","s":"BB Lower","p":0.241},{"d":"2026-05-10","s":"BB Lower","p":0.233},{"d":"2026-05-16","s":"BB Lower","p":0.236},{"d":"2026-05-22","s":"BB Lower","p":0.240},{"d":"2026-05-28","s":"BB Lower","p":0.228},{"d":"2026-05-30","s":"BB Lower","p":0.224},{"d":"2026-06-01","s":"BB Lower","p":0.226},{"d":"2026-06-03","s":"BB Lower","p":0.205},{"d":"2026-06-05","s":"BB Lower","p":0.184},
      {"d":"2025-08-29","s":"BB Mid (20)","p":0.878},{"d":"2025-08-31","s":"BB Mid (20)","p":0.882},{"d":"2025-09-03","s":"BB Mid (20)","p":0.873},{"d":"2025-09-07","s":"BB Mid (20)","p":0.849},{"d":"2025-09-11","s":"BB Mid (20)","p":0.848},{"d":"2025-09-17","s":"BB Mid (20)","p":0.856},{"d":"2025-09-21","s":"BB Mid (20)","p":0.872},{"d":"2025-09-25","s":"BB Mid (20)","p":0.869},{"d":"2025-09-30","s":"BB Mid (20)","p":0.854},{"d":"2025-10-04","s":"BB Mid (20)","p":0.846},{"d":"2025-10-10","s":"BB Mid (20)","p":0.830},{"d":"2025-10-12","s":"BB Mid (20)","p":0.803},{"d":"2025-10-16","s":"BB Mid (20)","p":0.783},{"d":"2025-10-19","s":"BB Mid (20)","p":0.757},{"d":"2025-10-22","s":"BB Mid (20)","p":0.719},{"d":"2025-10-26","s":"BB Mid (20)","p":0.694},{"d":"2025-10-30","s":"BB Mid (20)","p":0.656},{"d":"2025-11-05","s":"BB Mid (20)","p":0.627},{"d":"2025-11-10","s":"BB Mid (20)","p":0.608},{"d":"2025-11-15","s":"BB Mid (20)","p":0.583},{"d":"2025-11-22","s":"BB Mid (20)","p":0.518},{"d":"2025-11-24","s":"BB Mid (20)","p":0.506},{"d":"2025-11-26","s":"BB Mid (20)","p":0.488},{"d":"2025-12-02","s":"BB Mid (20)","p":0.444},{"d":"2025-12-06","s":"BB Mid (20)","p":0.430},{"d":"2025-12-09","s":"BB Mid (20)","p":0.424},{"d":"2025-12-12","s":"BB Mid (20)","p":0.425},{"d":"2025-12-18","s":"BB Mid (20)","p":0.412},{"d":"2025-12-22","s":"BB Mid (20)","p":0.407},{"d":"2025-12-27","s":"BB Mid (20)","p":0.384},{"d":"2025-12-31","s":"BB Mid (20)","p":0.371},{"d":"2026-01-03","s":"BB Mid (20)","p":0.365},{"d":"2026-01-08","s":"BB Mid (20)","p":0.369},{"d":"2026-01-12","s":"BB Mid (20)","p":0.378},{"d":"2026-01-16","s":"BB Mid (20)","p":0.388},{"d":"2026-01-21","s":"BB Mid (20)","p":0.393},{"d":"2026-01-25","s":"BB Mid (20)","p":0.388},{"d":"2026-01-29","s":"BB Mid (20)","p":0.374},{"d":"2026-02-02","s":"BB Mid (20)","p":0.357},{"d":"2026-02-06","s":"BB Mid (20)","p":0.328},{"d":"2026-02-10","s":"BB Mid (20)","p":0.309},{"d":"2026-02-14","s":"BB Mid (20)","p":0.294},{"d":"2026-02-22","s":"BB Mid (20)","p":0.278},{"d":"2026-02-26","s":"BB Mid (20)","p":0.275},{"d":"2026-03-04","s":"BB Mid (20)","p":0.277},{"d":"2026-03-09","s":"BB Mid (20)","p":0.273},{"d":"2026-03-20","s":"BB Mid (20)","p":0.270},{"d":"2026-03-27","s":"BB Mid (20)","p":0.266},{"d":"2026-04-06","s":"BB Mid (20)","p":0.253},{"d":"2026-04-12","s":"BB Mid (20)","p":0.250},{"d":"2026-04-16","s":"BB Mid (20)","p":0.248},{"d":"2026-04-26","s":"BB Mid (20)","p":0.249},{"d":"2026-05-05","s":"BB Mid (20)","p":0.248},{"d":"2026-05-10","s":"BB Mid (20)","p":0.255},{"d":"2026-05-16","s":"BB Mid (20)","p":0.261},{"d":"2026-05-22","s":"BB Mid (20)","p":0.260},{"d":"2026-05-28","s":"BB Mid (20)","p":0.257},{"d":"2026-06-01","s":"BB Mid (20)","p":0.251},{"d":"2026-06-03","s":"BB Mid (20)","p":0.245},{"d":"2026-06-05","s":"BB Mid (20)","p":0.232},
      {"d":"2025-08-10","s":"EMA200","p":0.800},{"d":"2025-08-12","s":"EMA200","p":0.802},{"d":"2025-08-20","s":"EMA200","p":0.813},{"d":"2025-08-28","s":"EMA200","p":0.815},{"d":"2025-09-07","s":"EMA200","p":0.817},{"d":"2025-09-17","s":"EMA200","p":0.821},{"d":"2025-09-21","s":"EMA200","p":0.824},{"d":"2025-09-30","s":"EMA200","p":0.824},{"d":"2025-10-10","s":"EMA200","p":0.825},{"d":"2025-10-17","s":"EMA200","p":0.814},{"d":"2025-11-01","s":"EMA200","p":0.789},{"d":"2025-11-16","s":"EMA200","p":0.757},{"d":"2025-11-24","s":"EMA200","p":0.730},{"d":"2025-12-07","s":"EMA200","p":0.693},{"d":"2025-12-16","s":"EMA200","p":0.668},{"d":"2026-01-01","s":"EMA200","p":0.627},{"d":"2026-01-16","s":"EMA200","p":0.594},{"d":"2026-02-02","s":"EMA200","p":0.552},{"d":"2026-02-28","s":"EMA200","p":0.489},{"d":"2026-03-16","s":"EMA200","p":0.4565},{"d":"2026-04-16","s":"EMA200","p":0.401},{"d":"2026-05-17","s":"EMA200","p":0.364},{"d":"2026-06-05","s":"EMA200","p":0.340},
      {"d":"2025-08-10","s":"EMA100","p":0.800},{"d":"2025-08-12","s":"EMA100","p":0.802},{"d":"2025-08-18","s":"EMA100","p":0.816},{"d":"2025-08-24","s":"EMA100","p":0.825},{"d":"2025-09-01","s":"EMA100","p":0.826},{"d":"2025-09-07","s":"EMA100","p":0.827},{"d":"2025-09-13","s":"EMA100","p":0.834},{"d":"2025-09-17","s":"EMA100","p":0.837},{"d":"2025-09-21","s":"EMA100","p":0.842},{"d":"2025-09-25","s":"EMA100","p":0.840},{"d":"2025-09-30","s":"EMA100","p":0.836},{"d":"2025-10-10","s":"EMA100","p":0.833},{"d":"2025-10-16","s":"EMA100","p":0.817},{"d":"2025-10-24","s":"EMA100","p":0.790},{"d":"2025-11-02","s":"EMA100","p":0.765},{"d":"2025-11-09","s":"EMA100","p":0.738},{"d":"2025-11-16","s":"EMA100","p":0.710},{"d":"2025-11-22","s":"EMA100","p":0.681},{"d":"2025-11-24","s":"EMA100","p":0.670},{"d":"2025-12-02","s":"EMA100","p":0.635},{"d":"2025-12-08","s":"EMA100","p":0.610},{"d":"2025-12-16","s":"EMA100","p":0.579},{"d":"2025-12-25","s":"EMA100","p":0.542},{"d":"2026-01-01","s":"EMA100","p":0.519},{"d":"2026-01-08","s":"EMA100","p":0.506},{"d":"2026-01-16","s":"EMA100","p":0.488},{"d":"2026-01-29","s":"EMA100","p":0.458},{"d":"2026-02-06","s":"EMA100","p":0.433},{"d":"2026-02-13","s":"EMA100","p":0.412},{"d":"2026-02-24","s":"EMA100","p":0.384},{"d":"2026-02-28","s":"EMA100","p":0.376},{"d":"2026-03-09","s":"EMA100","p":0.358},{"d":"2026-03-13","s":"EMA100","p":0.350},{"d":"2026-03-16","s":"EMA100","p":0.346},{"d":"2026-03-31","s":"EMA100","p":0.325},{"d":"2026-04-16","s":"EMA100","p":0.303},{"d":"2026-04-24","s":"EMA100","p":0.2956},{"d":"2026-05-04","s":"EMA100","p":0.2863},{"d":"2026-05-13","s":"EMA100","p":0.283},{"d":"2026-05-17","s":"EMA100","p":0.283},{"d":"2026-05-25","s":"EMA100","p":0.275},{"d":"2026-05-30","s":"EMA100","p":0.271},{"d":"2026-06-03","s":"EMA100","p":0.2696},{"d":"2026-06-05","s":"EMA100","p":0.2645},
      {"d":"2025-08-10","s":"EMA50","p":0.800},{"d":"2025-08-12","s":"EMA50","p":0.803},{"d":"2025-08-18","s":"EMA50","p":0.829},{"d":"2025-08-21","s":"EMA50","p":0.833},{"d":"2025-08-24","s":"EMA50","p":0.843},{"d":"2025-08-28","s":"EMA50","p":0.844},{"d":"2025-09-01","s":"EMA50","p":0.840},{"d":"2025-09-08","s":"EMA50","p":0.838},{"d":"2025-09-13","s":"EMA50","p":0.851},{"d":"2025-09-17","s":"EMA50","p":0.855},{"d":"2025-09-21","s":"EMA50","p":0.861},{"d":"2025-09-25","s":"EMA50","p":0.850},{"d":"2025-09-30","s":"EMA50","p":0.843},{"d":"2025-10-09","s":"EMA50","p":0.843},{"d":"2025-10-12","s":"EMA50","p":0.821},{"d":"2025-10-17","s":"EMA50","p":0.789},{"d":"2025-10-24","s":"EMA50","p":0.757},{"d":"2025-10-29","s":"EMA50","p":0.740},{"d":"2025-11-02","s":"EMA50","p":0.721},{"d":"2025-11-07","s":"EMA50","p":0.694},{"d":"2025-11-12","s":"EMA50","p":0.671},{"d":"2025-11-19","s":"EMA50","p":0.624},{"d":"2025-11-24","s":"EMA50","p":0.588},{"d":"2025-12-01","s":"EMA50","p":0.545},{"d":"2025-12-08","s":"EMA50","p":0.516},{"d":"2025-12-16","s":"EMA50","p":0.485},{"d":"2025-12-20","s":"EMA50","p":0.472},{"d":"2025-12-29","s":"EMA50","p":0.438},{"d":"2026-01-02","s":"EMA50","p":0.426},{"d":"2026-01-06","s":"EMA50","p":0.423},{"d":"2026-01-15","s":"EMA50","p":0.416},{"d":"2026-01-25","s":"EMA50","p":0.405},{"d":"2026-01-30","s":"EMA50","p":0.389},{"d":"2026-02-04","s":"EMA50","p":0.367},{"d":"2026-02-08","s":"EMA50","p":0.355},{"d":"2026-02-13","s":"EMA50","p":0.341},{"d":"2026-02-18","s":"EMA50","p":0.330},{"d":"2026-02-24","s":"EMA50","p":0.317},{"d":"2026-03-02","s":"EMA50","p":0.307},{"d":"2026-03-07","s":"EMA50","p":0.302},{"d":"2026-03-16","s":"EMA50","p":0.290},{"d":"2026-03-24","s":"EMA50","p":0.283},{"d":"2026-03-29","s":"EMA50","p":0.275},{"d":"2026-04-04","s":"EMA50","p":0.2675},{"d":"2026-04-12","s":"EMA50","p":0.2644},{"d":"2026-04-16","s":"EMA50","p":0.2618},{"d":"2026-04-26","s":"EMA50","p":0.2587},{"d":"2026-05-05","s":"EMA50","p":0.257},{"d":"2026-05-12","s":"EMA50","p":0.261},{"d":"2026-05-16","s":"EMA50","p":0.2605},{"d":"2026-05-26","s":"EMA50","p":0.2553},{"d":"2026-06-01","s":"EMA50","p":0.251},{"d":"2026-06-05","s":"EMA50","p":0.2416},
      {"d":"2025-08-10","s":"EMA20","p":0.800},{"d":"2025-08-12","s":"EMA20","p":0.803},{"d":"2025-08-15","s":"EMA20","p":0.836},{"d":"2025-08-18","s":"EMA20","p":0.861},{"d":"2025-08-21","s":"EMA20","p":0.861},{"d":"2025-08-24","s":"EMA20","p":0.875},{"d":"2025-08-28","s":"EMA20","p":0.868},{"d":"2025-09-01","s":"EMA20","p":0.851},{"d":"2025-09-06","s":"EMA20","p":0.841},{"d":"2025-09-08","s":"EMA20","p":0.846},{"d":"2025-09-13","s":"EMA20","p":0.867},{"d":"2025-09-17","s":"EMA20","p":0.873},{"d":"2025-09-21","s":"EMA20","p":0.880},{"d":"2025-09-25","s":"EMA20","p":0.856},{"d":"2025-09-29","s":"EMA20","p":0.834},{"d":"2025-10-02","s":"EMA20","p":0.839},{"d":"2025-10-05","s":"EMA20","p":0.843},{"d":"2025-10-09","s":"EMA20","p":0.840},{"d":"2025-10-12","s":"EMA20","p":0.795},{"d":"2025-10-16","s":"EMA20","p":0.760},{"d":"2025-10-20","s":"EMA20","p":0.725},{"d":"2025-10-25","s":"EMA20","p":0.690},{"d":"2025-10-29","s":"EMA20","p":0.683},{"d":"2025-11-02","s":"EMA20","p":0.656},{"d":"2025-11-06","s":"EMA20","p":0.617},{"d":"2025-11-11","s":"EMA20","p":0.605},{"d":"2025-11-15","s":"EMA20","p":0.576},{"d":"2025-11-19","s":"EMA20","p":0.544},{"d":"2025-11-22","s":"EMA20","p":0.512},{"d":"2025-11-26","s":"EMA20","p":0.475},{"d":"2025-12-01","s":"EMA20","p":0.453},{"d":"2025-12-05","s":"EMA20","p":0.445},{"d":"2025-12-08","s":"EMA20","p":0.441},{"d":"2025-12-10","s":"EMA20","p":0.444},{"d":"2025-12-14","s":"EMA20","p":0.431},{"d":"2025-12-18","s":"EMA20","p":0.412},{"d":"2025-12-26","s":"EMA20","p":0.384},{"d":"2026-01-01","s":"EMA20","p":0.371},{"d":"2026-01-02","s":"EMA20","p":0.375},{"d":"2026-01-08","s":"EMA20","p":0.387},{"d":"2026-01-12","s":"EMA20","p":0.387},{"d":"2026-01-15","s":"EMA20","p":0.393},{"d":"2026-01-18","s":"EMA20","p":0.392},{"d":"2026-01-21","s":"EMA20","p":0.384},{"d":"2026-01-25","s":"EMA20","p":0.374},{"d":"2026-01-28","s":"EMA20","p":0.369},{"d":"2026-01-31","s":"EMA20","p":0.350},{"d":"2026-02-04","s":"EMA20","p":0.332},{"d":"2026-02-08","s":"EMA20","p":0.313},{"d":"2026-02-13","s":"EMA20","p":0.295},{"d":"2026-02-17","s":"EMA20","p":0.289},{"d":"2026-02-24","s":"EMA20","p":0.280},{"d":"2026-02-26","s":"EMA20","p":0.283},{"d":"2026-03-04","s":"EMA20","p":0.278},{"d":"2026-03-07","s":"EMA20","p":0.275},{"d":"2026-03-11","s":"EMA20","p":0.268},{"d":"2026-03-15","s":"EMA20","p":0.2675},{"d":"2026-03-18","s":"EMA20","p":0.273},{"d":"2026-03-20","s":"EMA20","p":0.270},{"d":"2026-03-23","s":"EMA20","p":0.266},{"d":"2026-03-25","s":"EMA20","p":0.267},{"d":"2026-03-29","s":"EMA20","p":0.2605},{"d":"2026-04-04","s":"EMA20","p":0.2535},{"d":"2026-04-07","s":"EMA20","p":0.252},{"d":"2026-04-12","s":"EMA20","p":0.2514},{"d":"2026-04-16","s":"EMA20","p":0.2496},{"d":"2026-04-26","s":"EMA20","p":0.2496},{"d":"2026-05-05","s":"EMA20","p":0.250},{"d":"2026-05-08","s":"EMA20","p":0.254},{"d":"2026-05-12","s":"EMA20","p":0.262},{"d":"2026-05-15","s":"EMA20","p":0.261},{"d":"2026-05-20","s":"EMA20","p":0.258},{"d":"2026-05-26","s":"EMA20","p":0.252},{"d":"2026-05-30","s":"EMA20","p":0.2475},{"d":"2026-06-01","s":"EMA20","p":0.241},{"d":"2026-06-03","s":"EMA20","p":0.237},{"d":"2026-06-05","s":"EMA20","p":0.224}
    ]
  },
  "layer": [
    {
      "data": {"name": "ohlc"},
      "mark": {"type": "bar", "size": 6},
      "encoding": {
        "x": {
          "field": "d",
          "type": "temporal",
          "scale": {"type": "utc", "domain": [{"year": 2025, "month": 8, "date": 9, "hours": 14, "utc": true}, {"year": 2026, "month": 6, "date": 6, "hours": 10, "utc": true}]},
          "axis": {
            "orient": "bottom",
            "title": null,
            "labels": false,
            "domain": false,
            "ticks": true,
            "tickSize": 10,
            "tickColor": "#dddddd",
            "grid": true,
            "gridColor": "#e8e8e8",
            "values": [
              {"year": 2025, "month": 8, "date": 17, "utc": true},
              {"year": 2025, "month": 9, "date": 16, "utc": true},
              {"year": 2025, "month": 10, "date": 16, "hours": 14, "utc": true},
              {"year": 2025, "month": 11, "date": 16, "utc": true},
              {"year": 2025, "month": 12, "date": 16, "hours": 14, "utc": true},
              {"year": 2026, "month": 1, "date": 16, "hours": 10, "utc": true},
              {"year": 2026, "month": 2, "date": 14, "hours": 22, "utc": true},
              {"year": 2026, "month": 3, "date": 16, "hours": 7, "utc": true},
              {"year": 2026, "month": 4, "date": 15, "hours": 22, "utc": true},
              {"year": 2026, "month": 5, "date": 16, "hours": 7, "utc": true}
            ]
          }
        },
        "y": {
          "field": "v",
          "type": "quantitative",
          "scale": {"domain": [0, 1000]},
          "axis": {"orient": "left", "title": null, "labels": false, "ticks": false, "grid": false, "domain": true, "domainColor": "#e6e6e6", "domainWidth": 1}
        },
        "color": {"condition": {"test": "datum.c >= datum.o", "value": "#c8f0da"}, "value": "#f9d0ca"}
      }
    },
    {
      "layer": [
        {
          "data": {"name": "ind"},
          "mark": {"type": "line", "interpolate": "monotone"},
          "encoding": {
            "x": {
              "field": "d",
              "type": "temporal",
              "scale": {"type": "utc", "domain": [{"year": 2025, "month": 8, "date": 9, "hours": 14, "utc": true}, {"year": 2026, "month": 6, "date": 6, "hours": 10, "utc": true}]},
              "axis": {
                "orient": "bottom",
                "title": null,
                "grid": false,
                "ticks": false,
                "domain": true,
                "domainColor": "#cccccc",
                "domainWidth": 1.5,
                "labelExpr": "utcFormat(datum.value, '%b %Y')",
                "labelFontSize": 16,
                "labelColor": "#777777",
                "labelPadding": 18,
                "values": [
                  {"year": 2025, "month": 9, "date": 1, "utc": true},
                  {"year": 2025, "month": 10, "date": 1, "utc": true},
                  {"year": 2025, "month": 11, "date": 1, "utc": true},
                  {"year": 2025, "month": 12, "date": 1, "utc": true},
                  {"year": 2026, "month": 1, "date": 1, "utc": true},
                  {"year": 2026, "month": 2, "date": 1, "utc": true},
                  {"year": 2026, "month": 3, "date": 1, "utc": true},
                  {"year": 2026, "month": 4, "date": 1, "utc": true},
                  {"year": 2026, "month": 5, "date": 1, "utc": true},
                  {"year": 2026, "month": 6, "date": 1, "utc": true}
                ]
              }
            },
            "y": {
              "field": "p",
              "type": "quantitative",
              "scale": {"domain": [0.1, 1.1], "nice": false, "zero": false},
              "axis": {
                "orient": "right",
                "title": null,
                "values": [0.1, 0.2, 0.3, 0.4, 0.5, 0.6, 0.7, 0.8, 0.9, 1.0, 1.1],
                "format": ".1f",
                "grid": true,
                "gridDash": [2, 3],
                "gridColor": "#dddddd",
                "ticks": false,
                "domain": false,
                "labelFontSize": 16,
                "labelColor": "#777777",
                "labelPadding": 6
              }
            },
            "color": {
              "field": "s",
              "type": "nominal",
              "scale": {
                "domain": ["ADA/USDT", "EMA20", "EMA50", "EMA100", "EMA200", "BB Mid (20)", "BB Upper", "BB Lower", "Volume"],
                "range": ["#666666", "#1a8cff", "#8b5cf6", "#8b4513", "#111111", "#999999", "#c4c4c4", "#c4c4c4", "#f8d3ce"]
              },
              "legend": {
                "orient": "none",
                "legendX": 773,
                "legendY": -35,
                "direction": "horizontal",
                "title": null,
                "padding": 0,
                "symbolType": "M-1,-0.68H1V0.68H-1Z",
                "symbolSize": 625,
                "symbolStrokeWidth": 2,
                "labelFontSize": 16,
                "labelColor": "#555555",
                "labelOffset": 6,
                "columnPadding": 10,
                "encode": {
                  "symbols": {
                    "update": {
                      "fill": {"signal": "datum.value === 'ADA/USDT' ? '#666666' : datum.value === 'Volume' ? '#f8d3ce' : '#e4e4e4'"},
                      "stroke": {"signal": "datum.value === 'ADA/USDT' ? '#555555' : datum.value === 'EMA20' ? '#1a8cff' : datum.value === 'EMA50' ? '#8b5cf6' : datum.value === 'EMA100' ? '#8b4513' : datum.value === 'EMA200' ? '#111111' : datum.value === 'BB Mid (20)' ? '#aaaaaa' : datum.value === 'Volume' ? '#f8d3ce' : '#cccccc'"},
                      "strokeDash": {"signal": "datum.value === 'EMA200' ? [4, 3] : datum.value === 'BB Mid (20)' ? [2, 2] : [1, 0]"},
                      "opacity": {"value": 1},
                      "fillOpacity": {"value": 1}
                    }
                  }
                }
              }
            },
            "strokeDash": {
              "field": "s",
              "type": "nominal",
              "scale": {
                "domain": ["EMA20", "EMA50", "EMA100", "EMA200", "BB Mid (20)", "BB Upper", "BB Lower"],
                "range": [[1, 0], [1, 0], [1, 0], [7, 5], [4, 4], [1, 0], [1, 0]]
              },
              "legend": null
            },
            "strokeWidth": {
              "field": "s",
              "type": "nominal",
              "scale": {
                "type": "ordinal",
                "domain": ["EMA20", "EMA50", "EMA100", "EMA200", "BB Mid (20)", "BB Upper", "BB Lower"],
                "range": [2.6, 2.6, 2, 2.4, 1.3, 1.5, 1.5]
              },
              "legend": null
            }
          }
        },
        {
          "data": {"name": "ohlc"},
          "mark": {"type": "rule", "color": "#555555", "strokeWidth": 1.3},
          "encoding": {
            "x": {"field": "d", "type": "temporal"},
            "y": {"field": "l", "type": "quantitative"},
            "y2": {"field": "h"}
          }
        },
        {
          "data": {"name": "ohlc"},
          "mark": {"type": "bar", "size": 7, "stroke": "#555555", "strokeWidth": 1},
          "encoding": {
            "x": {"field": "d", "type": "temporal"},
            "y": {"field": "o", "type": "quantitative"},
            "y2": {"field": "c"},
            "color": {"condition": {"test": "datum.c >= datum.o", "value": "#4f9a6c"}, "value": "#d4543c"}
          }
        }
      ]
    }
  ],
  "resolve": {"scale": {"y": "independent"}, "axis": {"x": "independent"}}
}
